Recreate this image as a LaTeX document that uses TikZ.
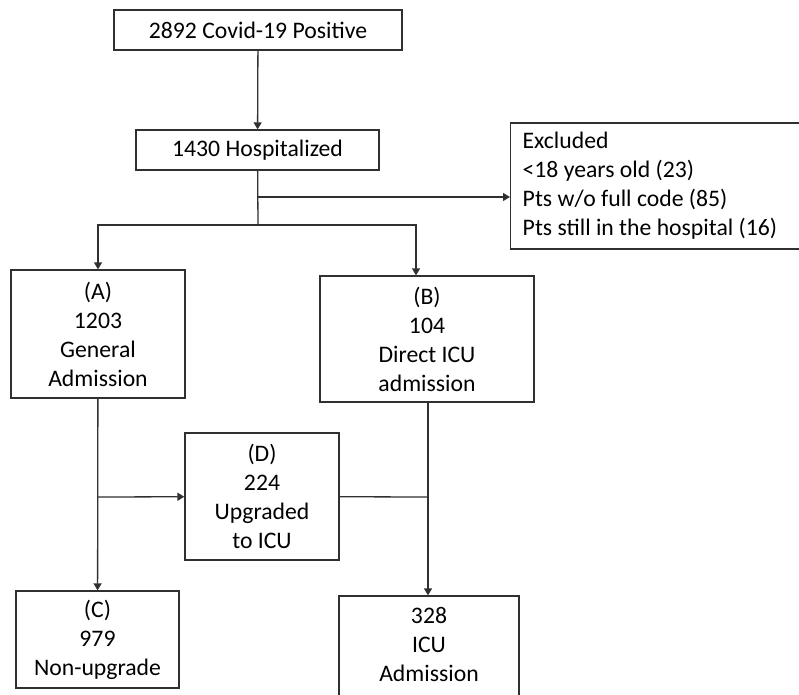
\documentclass[tikz,border=0pt]{standalone}
\usepackage{fontspec}
\setmainfont{Carlito}
\usepackage{tikz}
\usetikzlibrary{arrows.meta}
\usetikzlibrary{positioning}
\definecolor{lineclr}{HTML}{303030}
\tikzset{box/.style = {draw=lineclr, line width=1.3pt, align=center, inner sep=0pt,
                       font=\fontsize{23.7}{29}\selectfont},
         link/.style = {draw=lineclr, line width=1.3pt},
         ->/.style = {link, -{Triangle[length=7pt, width=8pt]}}}

\begin{document}
\begin{tikzpicture}[x=1pt, y=-1pt]
      \useasboundingbox (0, 0) rectangle (799, 694);
      \node [box, minimum width=288, minimum height=40] (pos) at (258, 30) {2892 Covid-19 Positive};
      \node [box, minimum width=243, minimum height=40] (hosp) at (257.5, 150) {1430 Hospitalized};
      \node [box, minimum width=300, minimum height=126, anchor=west, align=flush left,
             text width=276, inner xsep=12] (excl) at (510, 186)
            {Excluded\\<18 years old (23)\\Pts w/o full code (85)\\Pts still in the hospital (16)};
      \node [box, minimum width=174, minimum height=128] (genadm) at (98, 334) {(A)\\1203\\General\\Admission};
      \node [box, minimum width=214, minimum height=126] (diricu) at (427, 339) {(B)\\104\\Direct ICU\\admission};
      \node [box, minimum width=154, minimum height=127] (upgr) at (262, 496.5) {(D)\\224\\Upgraded\\to ICU};
      \node [box, minimum width=163, minimum height=97] (nonupgr) at (97.5, 639.5) {(C)\\979\\Non-upgrade};
      % box runs off the bottom edge, text kept up
      \node [box, minimum width=180, minimum height=112] (icuadm) at (429, 652) {328\\ICU\\Admission\\[-13pt]};
      \coordinate (split) at (258, 225);
      \coordinate (exclin) at (258, 197);
      \coordinate (upgrin) at (98, 497);
      \coordinate (icujoin) at (428, 497);
      \draw [->] (pos) -- (hosp);
      \draw [link] (hosp) -- (split);
      \draw [->] (exclin) -- (exclin -| excl.west);
      \draw [->] (split) -| (genadm.north);
      \draw [->] (split) -| ([xshift=-11pt]diricu.north);
      \draw [->] (genadm) -- (nonupgr);
      \draw [->] (upgrin) -- (upgr);
      \draw [link] (upgr) -- (icujoin);
      \draw [->] ([xshift=1pt]diricu.south) -- ([xshift=-1pt]icuadm.north);
    \end{tikzpicture}
\end{document}
